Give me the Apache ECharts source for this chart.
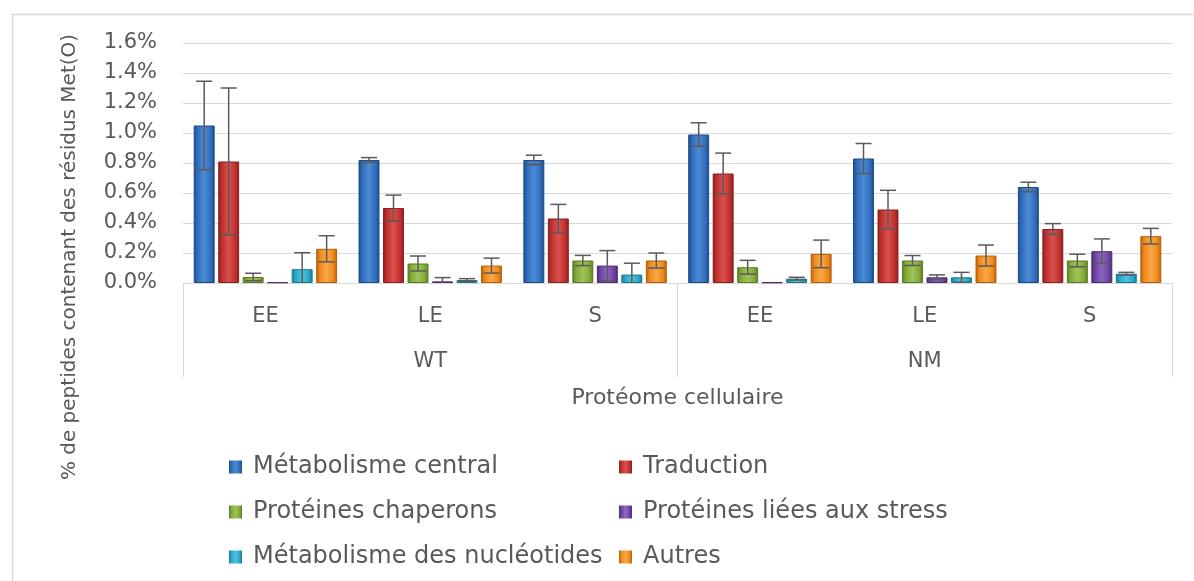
<!DOCTYPE html>
<html>
<head>
<meta charset="utf-8">
<script src="https://cdn.jsdelivr.net/npm/echarts@6/dist/echarts.min.js"></script>
<style>
html,body{margin:0;padding:0;background:#fff;}
#chart{width:1194px;height:581px;}
</style>
</head>
<body>
<div id="chart"></div>
<script>
// ---- data (values in %) ----
const categories = ['EE', 'LE', 'S', 'EE', 'LE', 'S'];
const groups = ['WT', 'NM'];
const yTicks = [0, 0.2, 0.4, 0.6, 0.8, 1.0, 1.2, 1.4, 1.6];
const seriesNames = ['Métabolisme central', 'Traduction', 'Protéines chaperons', 'Protéines liées aux stress', 'Métabolisme des nucléotides', 'Autres'];

const metCentral   = [1.05, 0.82, 0.82, 0.99, 0.83, 0.64];
const traduction   = [0.81, 0.50, 0.43, 0.73, 0.49, 0.36];
const chaperons    = [0.04, 0.13, 0.15, 0.105, 0.15, 0.15];
const stress       = [0.005, 0.011, 0.116, 0.004, 0.038, 0.212];
const nucleotides  = [0.092, 0.02, 0.056, 0.029, 0.038, 0.062];
const autres       = [0.228, 0.116, 0.15, 0.194, 0.183, 0.312];

const errMetCentral  = [0.295, 0.016, 0.032, 0.078, 0.10, 0.032];
const errTraduction  = [0.49, 0.086, 0.094, 0.136, 0.128, 0.036];
const errChaperons   = [0.025, 0.05, 0.034, 0.046, 0.033, 0.042];
const errStress      = [0, 0.025, 0.10, 0, 0.016, 0.082];
const errNucleotides = [0.11, 0.009, 0.076, 0.009, 0.033, 0.009];
const errAutres      = [0.087, 0.05, 0.05, 0.092, 0.07, 0.052];

const values = [metCentral, traduction, chaperons, stress, nucleotides, autres];
const errors = [errMetCentral, errTraduction, errChaperons, errStress, errNucleotides, errAutres];

// colours [dark, mid, light]
const palette = [
  ['#1d4a87', '#2f6ebd', '#4d8ad4'],
  ['#8c1f1f', '#c0302f', '#d9524d'],
  ['#5a7b23', '#82aa3a', '#9fc457'],
  ['#4a2b74', '#6f45a2', '#8c66bd'],
  ['#187890', '#2aa8c7', '#50c2dd'],
  ['#b55d0b', '#ef8a1b', '#f8a748']
];

const CAT_GAP = 0.13, BAR_GAP = 0.17, N = 6;
const FONT = 'DejaVu Sans';
const TXT = '#595959';

function grad(c) {
  return new echarts.graphic.LinearGradient(0, 0, 1, 0, [
    {offset: 0, color: c[0]}, {offset: 0.18, color: c[1]},
    {offset: 0.5, color: c[2]}, {offset: 0.82, color: c[1]}, {offset: 1, color: c[0]}
  ]);
}

const barSeries = seriesNames.map((name, i) => ({
  name: name,
  type: 'bar',
  data: values[i],
  barCategoryGap: (CAT_GAP * 100) + '%',
  barGap: (BAR_GAP * 100) + '%',
  itemStyle: {color: grad(palette[i]), borderColor: palette[i][0], borderWidth: 1},
  emphasis: {disabled: true}
}));

const errData = [];
values.forEach((arr, s) => arr.forEach((v, c) => {
  errData.push([c, s, v, errors[s][c]]);
}));

const errSeries = {
  type: 'custom',
  name: 'err',
  data: errData,
  z: 10,
  clip: true,
  encode: {x: 0, y: 2},
  renderItem: function (params, api) {
    const c = api.value(0), s = api.value(1), v = api.value(2), e = api.value(3);
    if (!e) return null;
    const B = api.size([1, 0])[0];
    const usable = B * (1 - CAT_GAP);
    const bw = usable / (N + (N - 1) * BAR_GAP);
    const center = api.coord([c, v]);
    const x = center[0] - usable / 2 + s * bw * (1 + BAR_GAP) + bw / 2;
    const yHi = api.coord([c, v + e])[1];
    const yLo = api.coord([c, Math.max(0, v - e)])[1];
    const cap = 8;
    const style = {stroke: '#5a5a5a', lineWidth: 1.5, fill: null};
    const children = [
      {type: 'line', shape: {x1: x, y1: yHi, x2: x, y2: yLo}, style: style},
      {type: 'line', shape: {x1: x - cap, y1: yHi, x2: x + cap, y2: yHi}, style: style}
    ];
    if (v - e > 0) children.push({type: 'line', shape: {x1: x - cap, y1: yLo, x2: x + cap, y2: yLo}, style: style});
    return {type: 'group', children: children};
  }
};

const legendBase = {
  orient: 'vertical',
  top: 455,
  padding: 0,
  itemWidth: 13,
  itemHeight: 13,
  itemGap: 21,
  icon: 'rect',
  selectedMode: false,
  itemStyle: {borderWidth: 0},
  textStyle: {fontFamily: FONT, fontSize: 24, color: TXT, lineHeight: 24, padding: [0, 0, 0, 6]}
};

const option = {
  animation: false,
  backgroundColor: '#fff',
  grid: {left: 183, right: 22, top: 43, bottom: 298, containLabel: false},
  legend: [
    Object.assign({}, legendBase, {left: 229, data: [seriesNames[0], seriesNames[2], seriesNames[4]]}),
    Object.assign({}, legendBase, {left: 619, data: [seriesNames[1], seriesNames[3], seriesNames[5]]})
  ],
  xAxis: [
    {
      type: 'category',
      data: categories,
      axisLine: {show: true, lineStyle: {color: '#d9d9d9', width: 1}},
      axisTick: {show: false},
      axisLabel: {margin: 23, fontFamily: FONT, fontSize: 21, color: TXT, interval: 0}
    },
    {
      type: 'category',
      data: groups,
      position: 'bottom',
      axisLine: {show: false},
      axisTick: {show: true, length: 94, interval: 0, lineStyle: {color: '#d9d9d9', width: 1}},
      axisLabel: {margin: 68, fontFamily: FONT, fontSize: 21, color: TXT, interval: 0},
      name: 'Protéome cellulaire',
      nameLocation: 'middle',
      nameGap: 104,
      nameTextStyle: {fontFamily: FONT, fontSize: 22, color: TXT}
    }
  ],
  yAxis: {
    type: 'value',
    min: yTicks[0],
    max: yTicks[yTicks.length - 1],
    interval: 0.2,
    axisLine: {show: false},
    axisTick: {show: false},
    splitLine: {lineStyle: {color: '#d9d9d9', width: 1}},
    axisLabel: {margin: 26, fontFamily: FONT, fontSize: 21, color: TXT, formatter: v => v.toFixed(1) + '%'}
  },
  graphic: [
    {type: 'rect', left: 10, top: 12, shape: {width: 1400, height: 800}, style: {fill: null, stroke: '#d9d9d9', lineWidth: 1.5}, silent: true, z: -10},
    {type: 'text', x: 70, y: 257, rotation: Math.PI / 2,
     style: {text: '% de peptides contenant des résidus Met(O)', font: '20px "DejaVu Sans"', fill: TXT, align: 'center', verticalAlign: 'middle'}}
  ],
  series: barSeries.concat([errSeries])
};

const chart = echarts.init(document.getElementById('chart'), null, {renderer: 'canvas'});
chart.setOption(option);
</script>
</body>
</html>
